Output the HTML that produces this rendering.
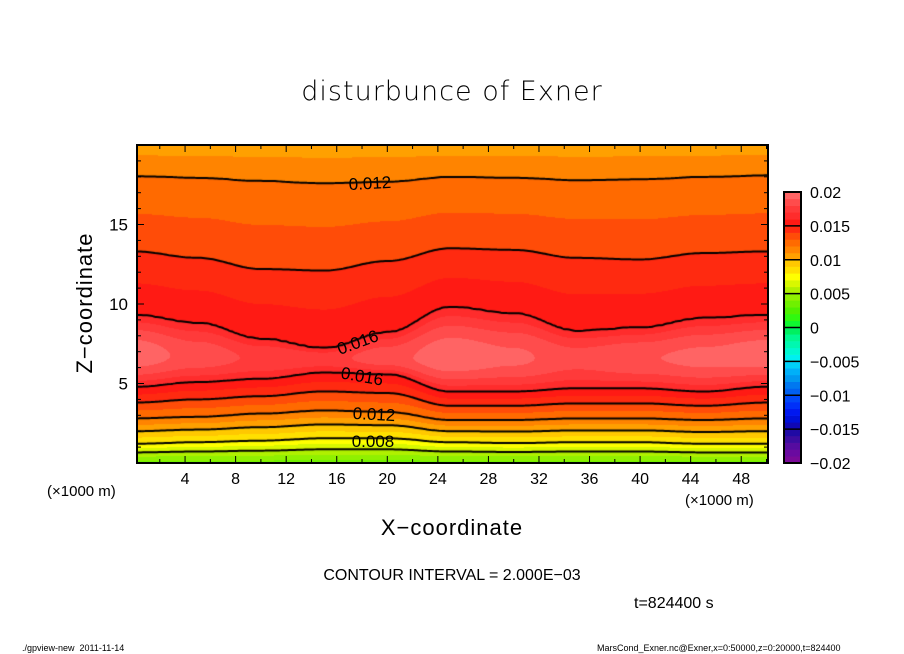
<!DOCTYPE html>
<html><head><meta charset="utf-8">
<style>
body{margin:0;background:#fff;width:904px;height:654px;position:relative;overflow:hidden;font-family:"Liberation Sans","DejaVu Sans",sans-serif;color:#000}
.t{position:absolute;white-space:nowrap}
</style></head><body>
<div class="t" style="left:0;width:904px;text-align:center;top:76px;font-size:27px;letter-spacing:1px;font-family:'DejaVu Sans',sans-serif;font-weight:200">disturbunce of Exner</div>
<canvas id="plot" width="631" height="318" style="position:absolute;left:137px;top:145px"></canvas>
<svg id="ov" width="904" height="654" style="position:absolute;left:0;top:0"></svg>
<div class="t" style="left:85px;top:303px;font-size:22px;transform:translate(-50%,-50%) rotate(-90deg);letter-spacing:1px">Z−coordinate</div>
<div class="t" style="left:0;width:904px;text-align:center;top:515px;font-size:22px;letter-spacing:1px">X−coordinate</div>
<div class="t" style="left:47px;top:483px;font-size:15px">(×1000 m)</div>
<div class="t" style="left:685px;top:492px;font-size:15px">(×1000 m)</div>
<div class="t" style="left:0;width:904px;text-align:center;top:567px;font-size:16px">CONTOUR INTERVAL = 2.000E−03</div>
<div class="t" style="left:634px;top:595px;font-size:16px">t=824400 s</div>
<div class="t" style="left:22px;top:643px;font-size:9px">./gpview-new&nbsp;&nbsp;2011-11-14</div>
<div class="t" style="left:597px;top:643px;font-size:9px">MarsCond_Exner.nc@Exner,x=0:50000,z=0:20000,t=824400</div>
<script>
// x nodes (km) and contour heights (km)
const xNodes=[0,5,10,15,20,25,30,35,40,45,50];
const z008=[1.2,1.3,1.4,1.55,1.55,1.3,1.25,1.3,1.3,1.2,1.2];
const z012lo=[2.8,2.9,3.1,3.3,3.2,2.7,2.7,2.8,2.8,2.7,2.8];
const z016lo=[4.8,5.1,5.3,5.7,5.6,4.5,4.5,4.7,4.7,4.5,4.8];
const zCore=[6.8,6.7,6.6,6.6,6.6,6.6,6.6,6.6,6.6,6.6,6.8];
const coreVal=[0.0196,0.0186,0.0178,0.0176,0.0186,0.0197,0.0192,0.0184,0.0189,0.0193,0.0196];
const z016up=[9.3,8.8,7.8,7.2,8.2,9.8,9.4,8.3,8.5,9.1,9.3];
const z014up=[13.3,12.9,12.2,12.1,12.7,13.5,13.4,12.9,12.8,13.2,13.3];
const z012up=[18.05,17.95,17.75,17.6,17.7,18,17.95,17.8,17.85,18,18.1];
const bottomVal=0.0035, topVal=0.0105;
const contourLevels=[0.006,0.008,0.010,0.012,0.014,0.016];
const xTickLabels=[4,8,12,16,20,24,28,32,36,40,44,48];
const yTickLabels=[5,10,15];
const cbLabels=["0.02","0.015","0.01","0.005","0","−0.005","−0.01","−0.015","−0.02"];
const palette=["#7a0a98","#6a0aa0","#560ca0","#3c0ca0","#200aa4","#1008b4","#0010d8","#0018f0","#0030f8","#0048f8","#0060f0","#0078f0","#0098f0","#00b0f8","#00d0f8","#00f0f0","#00f8d0","#00f8b0","#00f890","#00f060","#10f830","#30f810","#50f000","#70f000","#90f000","#b0f000","#d8f800","#ffff00","#ffe000","#ffc800","#ffa000","#ff8400","#ff6a00","#ff4c08","#ff2a10","#ff1a14","#ff2c2c","#ff3a3a","#ff4c4c","#ff6464"];

const X=x=>134.5+x*12.64, Z=z=>463-z*15.9;
function at(arr,x){let i=Math.min(Math.max(Math.floor(x/5),0),9);let t=(x-xNodes[i])/5;t=(1-Math.cos(Math.PI*t))/2;return arr[i]+(arr[i+1]-arr[i])*t;}
function field(x,z){
 const a=[[0,bottomVal],[at(z008,x),0.008],[at(z012lo,x),0.012],[at(z016lo,x),0.016],[at(zCore,x),at(coreVal,x)],[at(z016up,x),0.016],[at(z014up,x),0.014],[at(z012up,x),0.012],[20,topVal]];
 for(let k=0;k<a.length-1;k++){
  if(z<=a[k+1][0]||k==a.length-2){
   let t=(z-a[k][0])/(a[k+1][0]-a[k][0]);t=Math.max(0,Math.min(1,t));
   if(k==3)return 0.016+(a[4][1]-0.016)*Math.sin(t*Math.PI/2);
   if(k==4)return 0.016+(a[4][1]-0.016)*Math.sin((1-t)*Math.PI/2);
   return a[k][1]+(a[k+1][1]-a[k][1])*t;}
 }
}
const cv=document.getElementById('plot'),ctx=cv.getContext('2d');
const W=631,H=318,img=ctx.createImageData(W,H);
const rgb=palette.map(h=>[parseInt(h.substr(1,2),16),parseInt(h.substr(3,2),16),parseInt(h.substr(5,2),16)]);
for(let py=0;py<H;py++)for(let px=0;px<W;px++){
 const x=(px+137.5-134.5)/12.64,z=(463-(py+145.5))/15.9;
 const v=field(x,z);let idx=Math.floor((v+0.02)/0.001);idx=Math.max(0,Math.min(39,idx));
 const c=rgb[idx],o=(py*W+px)*4;img.data[o]=c[0];img.data[o+1]=c[1];img.data[o+2]=c[2];img.data[o+3]=255;}
ctx.putImageData(img,0,0);
const st=2,nx=Math.ceil(W/st)+1,ny=Math.ceil(H/st)+1,g=[];
for(let j=0;j<ny;j++){g[j]=[];for(let i=0;i<nx;i++){g[j][i]=field((i*st+137-134.5)/12.64,(463-(j*st+145))/15.9);}}
ctx.strokeStyle="#000";ctx.lineWidth=2;ctx.beginPath();
for(const L of contourLevels){
 for(let j=0;j<ny-1;j++)for(let i=0;i<nx-1;i++){
  const v=[g[j][i],g[j][i+1],g[j+1][i+1],g[j+1][i]],p=[[i,j],[i+1,j],[i+1,j+1],[i,j+1]],pts=[];
  for(let e=0;e<4;e++){const a=v[e],b=v[(e+1)%4];if((a<L)!=(b<L)){const t=(L-a)/(b-a),P=p[e],Q=p[(e+1)%4];pts.push([(P[0]+(Q[0]-P[0])*t)*st,(P[1]+(Q[1]-P[1])*t)*st]);}}
  for(let k=0;k+1<pts.length;k+=2){ctx.moveTo(pts[k][0],pts[k][1]);ctx.lineTo(pts[k+1][0],pts[k+1][1]);}
 }}
ctx.stroke();
const ov=document.getElementById('ov'),NS="http://www.w3.org/2000/svg";
function mk(t,a,p){const e=document.createElementNS(NS,t);for(const k in a)e.setAttribute(k,a[k]);(p||ov).appendChild(e);return e;}
const frame=mk('rect',{x:137,y:145,width:631,height:318,fill:'none',stroke:'#000','stroke-width':2});


for(let x=2;x<=50;x+=2){const len=x%4==0?7:4;
 mk('line',{x1:X(x),x2:X(x),y1:463,y2:463-len,stroke:'#000','stroke-width':1});
 mk('line',{x1:X(x),x2:X(x),y1:145,y2:145+len,stroke:'#000','stroke-width':1});}
for(let z=1;z<20;z++){const len=z%5==0?7:4;
 mk('line',{x1:137,x2:137+len,y1:Z(z),y2:Z(z),stroke:'#000','stroke-width':1});
 mk('line',{x1:768,x2:768-len,y1:Z(z),y2:Z(z),stroke:'#000','stroke-width':1});}
for(const v of xTickLabels){const t=mk('text',{x:X(v),y:484,'text-anchor':'middle','font-size':16,'font-family':'Liberation Sans, sans-serif'});t.textContent=v;
 
 }
for(const v of yTickLabels){const t=mk('text',{x:128,y:Z(v)+6,'text-anchor':'end','font-size':17,'font-family':'Liberation Sans, sans-serif'});t.textContent=v;
 
 }
const labs=[[370,189,-3,"0.012"],[358,348,-20,"0.016"],[362,382,10,"0.016"],[374,420,3,"0.012"],[373,447,0,"0.008"]];
for(const l of labs){const t=mk('text',{x:l[0],y:l[1],'text-anchor':'middle','font-size':17,'font-family':'Liberation Sans, sans-serif',transform:`rotate(${l[2]} ${l[0]} ${l[1]-5})`});t.textContent=l[3];
 
 }
const cbTop=192,cbH=271,sh=cbH/40;
for(let i=0;i<40;i++){const r=mk('rect',{x:784,y:cbTop+cbH-(i+1)*sh,width:17,height:sh+0.3,fill:palette[i]});
 
 }
for(let k=0;k<=8;k++)mk('line',{x1:784,x2:801,y1:cbTop+k*cbH/8,y2:cbTop+k*cbH/8,stroke:'#000','stroke-width':1.5});
mk('rect',{x:784,y:cbTop,width:17,height:cbH,fill:'none',stroke:'#000','stroke-width':2});
cbLabels.forEach((s,k)=>{const t=mk('text',{x:810,y:cbTop+k*cbH/8+6,'font-size':16,'font-family':'Liberation Sans, sans-serif'});t.textContent=s;
 
 });
</script>
</body></html>
